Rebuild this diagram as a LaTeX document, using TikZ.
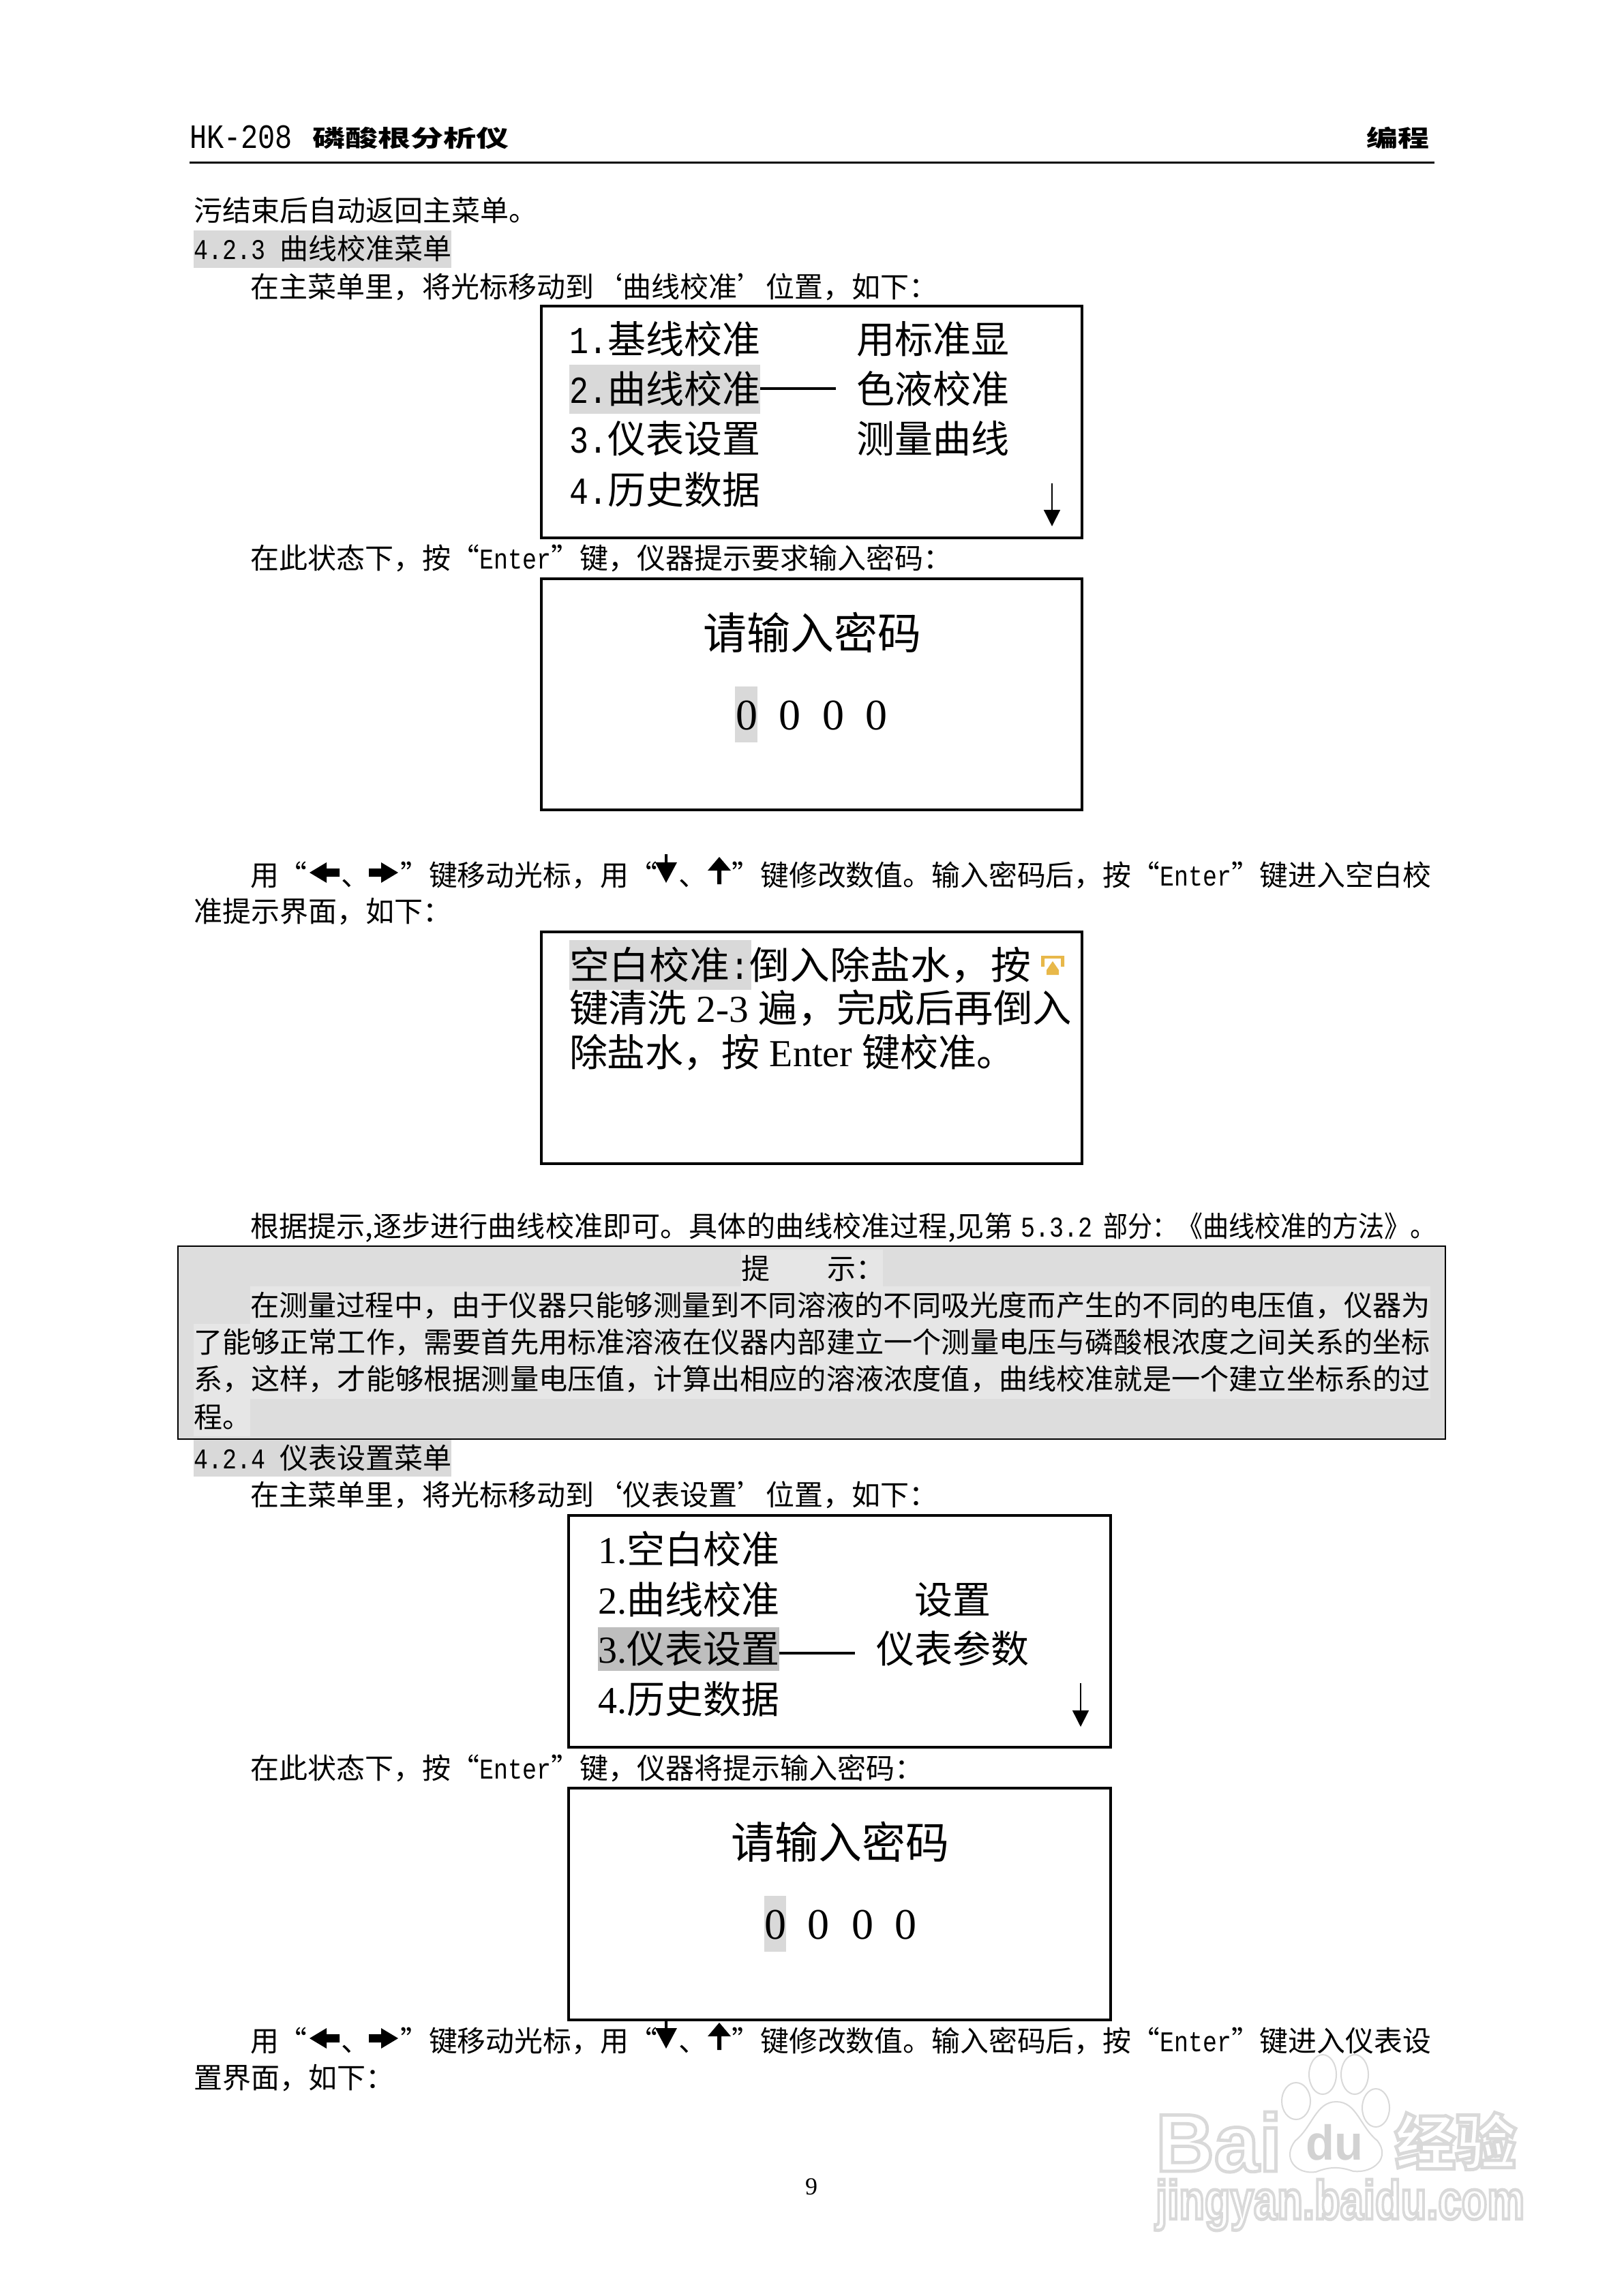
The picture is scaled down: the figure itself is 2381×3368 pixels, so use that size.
\documentclass[tikz,border=0pt]{standalone}
\usepackage{fontspec}
\usepackage{graphicx}
\usetikzlibrary{arrows.meta}
\setmainfont{Noto Sans CJK SC}
\newfontfamily\latmono[FakeStretch=0.8333]{Liberation Mono}
\newfontfamily\latserif{Liberation Serif}
\newfontfamily\latsans{Liberation Sans}
\newdimen\pxu \pxu=0.25pt
\newcommand\lm[1]{{\latmono #1}}
\newcommand\ls[1]{{\latserif #1}}
\definecolor{hl}{HTML}{D9D9D9}
\definecolor{hldark}{HTML}{BEBEBE}
\definecolor{tipbase}{HTML}{DDDDDD}
\definecolor{tipband}{HTML}{E6E6E6}
\definecolor{iconc}{HTML}{E8B84A}
\tikzset{
  txt/.style={anchor=base west,inner sep=0pt,outer sep=0pt,font=\fontsize{10.5}{12}\selectfont},
  big/.style={txt,font=\fontsize{14}{16}\selectfont},
  ttl/.style={txt,font=\fontsize{16}{18}\selectfont},
  screen/.style={draw=black,line width=1pt,fill=white},
  hmark/.style={fill=hl,draw=none},
  dashline/.style={line width=0.8pt},
  scroll/.style={line width=0.4pt,-{Stealth[length=6pt,width=6pt,inset=0pt]}},
  keyarrow/.style={fill=black,draw=none}
}
% plain line: name, x, centre y, text
\newcommand\tl[4]{\node[txt] (#1) at (#2,#3+16) {#4};}
% justified line: name, x1, x2, centre y, text
\newcommand\jl[5]{\node[txt] (#1) at (#2,#4+16) {\resizebox{\dimexpr #3\pxu-#2\pxu\relax}{\height}{#5}};}
\newcommand\bl[4]{\node[big] (#1) at (#2,#3+21) {#4};}
\newcommand\bj[5]{\node[big] (#1) at (#2,#4+21) {\resizebox{\dimexpr #3\pxu-#2\pxu\relax}{\height}{#5}};}
% the four key arrows of an instruction line, centre y of the line
\newcommand\keyarrows[1]{
  \fill[keyarrow] (454,#1-3) -- (479,#1-18) -- (479,#1-9) -- (498,#1-9) -- (498,#1+3) -- (479,#1+3) -- (479,#1+12) -- cycle;
  \fill[keyarrow] (584,#1-3) -- (559,#1-18) -- (559,#1-9) -- (541,#1-9) -- (541,#1+3) -- (559,#1+3) -- (559,#1+12) -- cycle;
  \fill[keyarrow] (975,#1-30) -- (979,#1-30) -- (979,#1-18) -- (993,#1-18) -- (977,#1+12) -- (961,#1-18) -- (975,#1-18) -- cycle;
  \fill[keyarrow] (1055,#1-26) -- (1072,#1-6) -- (1058,#1-6) -- (1058,#1+14) -- (1052,#1+14) -- (1052,#1-6) -- (1038,#1-6) -- cycle;
}
\begin{document}
\begin{tikzpicture}[x=0.25pt,y=-0.25pt]
\useasboundingbox (0,0) rectangle (2381,3368);
\fill[white] (0,0) rectangle (2381,3368);

% header
\node[txt,font=\fontsize{12.5}{14}\selectfont] (hkno) at (278,218) {\resizebox{151\pxu}{\height}{\lm{HK-208}}};
\node[txt,font=\fontsize{8.5}{10}\selectfont\bfseries] (hkname) at (458,216) {\resizebox{289\pxu}{\height}{磷酸根分析仪}};
\node[txt,font=\fontsize{8.5}{10}\selectfont\bfseries] (hkright) at (2004,216) {\resizebox{92\pxu}{\height}{编程}};
\draw[line width=0.8pt] (278,238.5) -- (2104,238.5);

% upper text
\tl{l1}{284}{309}{污结束后自动返回主菜单。}
\fill[hmark] (284,338) rectangle (662,393);
\tl{h1}{284}{365}{\lm{4.2.3 }曲线校准菜单}
\tl{l2}{367}{421}{在主菜单里，将光标移动到‘曲线校准’位置，如下：}

% screen 1
\draw[screen] (794,449) rectangle (1587,789);
\fill[hmark] (835,535) rectangle (1115,607);
\bl{a1}{835}{498}{\lm{1.}基线校准}
\bl{a2}{835}{571}{\lm{2.}曲线校准}
\bl{a3}{835}{644}{\lm{3.}仪表设置}
\bl{a4}{835}{719}{\lm{4.}历史数据}
\bl{b1}{1256}{498}{用标准显}
\bl{b2}{1256}{571}{色液校准}
\bl{b3}{1256}{644}{测量曲线}
\draw[dashline] (1115,570) -- (1226,570);
\coordinate (s1top) at (1543,709);
\coordinate (s1bot) at (1543,772);
\draw[scroll] (s1top) -- (s1bot);

\tl{l3}{367}{818}{在此状态下，按“\lm{Enter}”键，仪器提示要求输入密码：}

% screen 2
\draw[screen] (794,849) rectangle (1587,1188);
\node[ttl,anchor=base] (p1) at (1191,952) {请输入密码};
\fill[hmark] (1078,1007) rectangle (1111,1089);
\foreach \n/\x in {a/1095,b/1158,c/1222,d/1285}
  \node[ttl,anchor=base] (z\n) at (\x,1070) {\ls{0}};

% instruction
\jl{l4}{367}{2099}{1283}{用“\hspace*{50\pxu}、\hspace*{45\pxu}”键移动光标，用“\hspace*{32\pxu}、\hspace*{36\pxu}”键修改数值。输入密码后，按“\lm{Enter}”键进入空白校}
\keyarrows{1283}
\tl{l5}{284}{1336}{准提示界面，如下：}

% screen 3
\draw[screen] (794,1367) rectangle (1587,1707);
\fill[hmark] (835,1379) rectangle (1102,1452);
\bj{c1}{835}{1512}{1415}{空白校准\lm{:}倒入除盐水，按}
\bj{c2}{835}{1572}{1478}{键清洗\ls{ 2-3 }遍，完成后再倒入}
\bj{c3}{835}{1488}{1543}{除盐水，按\ls{ Enter }键校准。}
% key icon
\fill[iconc] (1527,1402) rectangle (1561,1406) (1527,1402) rectangle (1532,1418) (1556,1402) rectangle (1561,1418);
\fill[iconc] (1544,1410) -- (1553,1423) -- (1553,1430) -- (1535,1430) -- (1535,1423) -- cycle;

\jl{l6a}{367}{1486}{1798}{根据提示,逐步进行曲线校准即可。具体的曲线校准过程,见第}
\tl{l6b}{1497}{1798}{\lm{5.3.2}}
\jl{l6c}{1618}{1726}{1798}{部分：}
\jl{l6d}{1726}{2107}{1798}{《曲线校准的方法》。}

% tip box
\draw[draw=black,line width=0.6pt,fill=tipbase] (261,1828) rectangle (2120,2111);
\fill[tipband] (1087,1833) rectangle (1295,1887);
\fill[tipband] (367,1887) rectangle (2098,1942);
\fill[tipband] (284,1942) rectangle (2098,2052);
\fill[tipband] (284,2052) rectangle (367,2107);
\tl{t0}{1087}{1860}{提　　示：}
\jl{t1}{367}{2098}{1914}{在测量过程中，由于仪器只能够测量到不同溶液的不同吸光度而产生的不同的电压值，仪器为}
\jl{t2}{284}{2098}{1968}{了能够正常工作，需要首先用标准溶液在仪器内部建立一个测量电压与磷酸根浓度之间关系的坐标}
\jl{t3}{284}{2098}{2022}{系，这样，才能够根据测量电压值，计算出相应的溶液浓度值，曲线校准就是一个建立坐标系的过}
\tl{t4}{284}{2078}{程。}

\fill[hmark] (284,2112) rectangle (662,2166);
\tl{h2}{284}{2138}{\lm{4.2.4 }仪表设置菜单}
\tl{l7}{367}{2192}{在主菜单里，将光标移动到‘仪表设置’位置，如下：}

% screen 4
\draw[screen] (834,2223) rectangle (1629,2563);
\fill[hldark] (877,2387) rectangle (1143,2451);
\bl{d1}{877}{2272}{\ls{1.}空白校准}
\bl{d2}{877}{2346}{\ls{2.}曲线校准}
\bl{d3}{877}{2418}{\ls{3.}仪表设置}
\bl{d4}{877}{2492}{\ls{4.}历史数据}
\bl{e1}{1341}{2346}{设置}
\bl{e2}{1285}{2418}{仪表参数}
\draw[dashline] (1143,2425) -- (1254,2425);
\coordinate (s4top) at (1585,2469);
\coordinate (s4bot) at (1585,2533);
\draw[scroll] (s4top) -- (s4bot);

\tl{l8}{367}{2593}{在此状态下，按“\lm{Enter}”键，仪器将提示输入密码：}

% screen 5
\draw[screen] (834,2623) rectangle (1629,2963);
\node[ttl,anchor=base] (p2) at (1232,2726) {请输入密码};
\fill[hmark] (1121,2781) rectangle (1153,2863);
\foreach \n/\x in {a/1137,b/1200,c/1265,d/1328}
  \node[ttl,anchor=base] (y\n) at (\x,2844) {\ls{0}};

\jl{l9}{367}{2099}{2993}{用“\hspace*{50\pxu}、\hspace*{45\pxu}”键移动光标，用“\hspace*{32\pxu}、\hspace*{36\pxu}”键修改数值。输入密码后，按“\lm{Enter}”键进入仪表设}
\keyarrows{2993}
\tl{l10}{284}{3047}{置界面，如下：}

\node[txt,anchor=base,font=\fontsize{9}{11}\selectfont] (pg) at (1190,3219) {\ls{9}};

% watermark
\begin{scope}[gray!30,line width=0.5pt]
  \draw (1901,3082) ellipse (21 and 27);
  \draw (1940,3043) ellipse (20 and 29);
  \draw (1987,3043) ellipse (20 and 29);
  \draw (2018,3092) ellipse (20 and 28);
  \draw (1960,3083) .. controls (1990,3083) and (1995,3120) .. (2020,3140)
     .. controls (2040,3165) and (2015,3188) .. (1985,3185)
     .. controls (1965,3178) and (1950,3178) .. (1930,3186)
     .. controls (1900,3190) and (1880,3165) .. (1900,3140)
     .. controls (1925,3120) and (1930,3083) .. (1960,3083) -- cycle;
\end{scope}
\node[txt,text=white,font=\latsans\bfseries\fontsize{30}{32}\selectfont] (wm1) at (1695,3185)
  {\special{pdf:code 2 Tr 1.2 w 0.85 G}\resizebox{185\pxu}{\height}{Bai}\special{pdf:code 0 Tr 0 G}};
\node[txt,text=gray!35,font=\latsans\bfseries\fontsize{18}{20}\selectfont] (wm2) at (1915,3168) {\resizebox{84\pxu}{\height}{du}};
\node[txt,text=white,font=\bfseries\fontsize{22}{24}\selectfont] (wm3) at (2046,3175)
  {\special{pdf:code 2 Tr 1.2 w 0.85 G}\resizebox{178\pxu}{\height}{经验}\special{pdf:code 0 Tr 0 G}};
\node[txt,text=white,font=\latsans\bfseries\fontsize{20}{22}\selectfont] (wm4) at (1695,3255)
  {\special{pdf:code 2 Tr 1.2 w 0.85 G}\resizebox{541\pxu}{\height}{jingyan.baidu.com}\special{pdf:code 0 Tr 0 G}};
\end{tikzpicture}
\end{document}
